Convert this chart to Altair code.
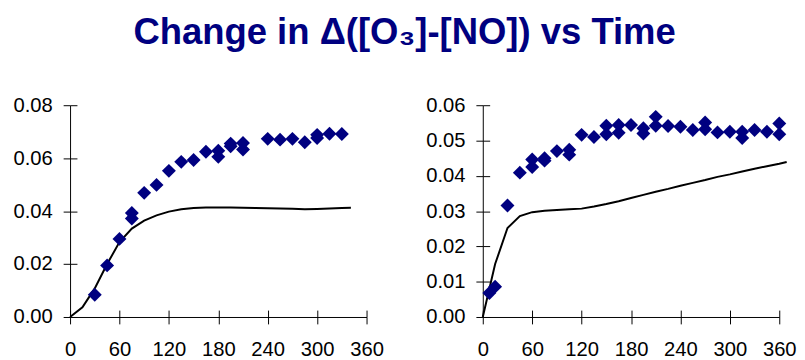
import altair as alt
import pandas as pd

# ---------------- data ----------------
left_obs_t = [30, 45, 60, 75, 75, 90, 105, 120, 135, 150, 165, 180, 180, 195, 195,
              210, 210, 240, 255, 270, 285, 300, 300, 315, 330]
left_obs_v = [0.0084, 0.0195, 0.0295, 0.0393, 0.0372, 0.0469, 0.0499, 0.0552, 0.0586,
              0.0593, 0.0624, 0.0628, 0.0605, 0.0655, 0.0645, 0.0657, 0.0633, 0.0673,
              0.0670, 0.0673, 0.0660, 0.0688, 0.0676, 0.0692, 0.0691]

left_mod_t = [0, 15, 30, 45, 60, 75, 90, 105, 120, 135, 150, 165, 180, 195, 210, 225,
              240, 255, 270, 285, 300, 315, 330, 341]
left_mod_v = [0.0, 0.0037, 0.0108, 0.0200, 0.0283, 0.0334, 0.0364, 0.0384, 0.0398,
              0.0407, 0.0412, 0.0414, 0.0414, 0.0414, 0.0413, 0.0412, 0.0411, 0.0410,
              0.0409, 0.0407, 0.0408, 0.0410, 0.0412, 0.0413]

right_obs_t = [8, 15, 30, 45, 60, 60, 75, 75, 90, 105, 105, 120, 135, 150, 150, 165, 165,
               180, 195, 195, 210, 210, 225, 240, 255, 270, 270, 285, 300, 315, 315,
               330, 345, 360, 360]
right_obs_v = [0.0068, 0.0086, 0.0316, 0.0409, 0.0446, 0.0425, 0.0450, 0.0443, 0.0470,
               0.0474, 0.0460, 0.0516, 0.0510, 0.0542, 0.0518, 0.0544, 0.0522, 0.0544,
               0.0535, 0.0520, 0.0567, 0.0542, 0.0541, 0.0539, 0.0530, 0.0551, 0.0532,
               0.0523, 0.0525, 0.0525, 0.0507, 0.0530, 0.0525, 0.0548, 0.0518]

right_mod_t = [0, 15, 30, 45, 60, 75, 90, 105, 120, 135, 150, 165, 180, 195, 210, 225,
               240, 255, 270, 285, 300, 315, 330, 345, 360, 369]
right_mod_v = [0.0, 0.0150, 0.0252, 0.0286, 0.0297, 0.0301, 0.0303, 0.0305, 0.0307,
               0.0313, 0.0320, 0.0328, 0.0337, 0.0346, 0.0355, 0.0363, 0.0372, 0.0380,
               0.0388, 0.0397, 0.0404, 0.0412, 0.0420, 0.0427, 0.0434, 0.0439]

x_ticks = [0, 60, 120, 180, 240, 300, 360]
left_y_ticks = [0.0, 0.02, 0.04, 0.06, 0.08]
right_y_ticks = [0.0, 0.01, 0.02, 0.03, 0.04, 0.05, 0.06]

TITLE = "Change in \u0394([O\u2083]-[NO]) vs Time"
FONT = "Liberation Sans"
NAVY = "#000080"
LABEL_SIZE = 20.5


def main_axis(values, orient, pad, fmt=None):
    kw = dict(values=values, title=None, orient=orient, labelFont=FONT,
              labelFontSize=LABEL_SIZE, labelColor="black", tickColor="black",
              tickSize=7, tickWidth=1, domainColor="black", domainWidth=1,
              grid=False, labelPadding=pad, labelFlush=False, labelOverlap=False)
    if fmt:
        kw["format"] = fmt
    return alt.Axis(**kw)


def inner_axis(values, orient):
    # second set of ticks pointing into the plot (ticks cross the axis line)
    return alt.Axis(values=values, title=None, orient=orient, offset=-7,
                    labels=False, domain=False, grid=False, tickColor="black",
                    tickSize=7, tickWidth=1)


def panel(obs_t, obs_v, mod_t, mod_v, y_ticks):
    obs = pd.DataFrame({"t": obs_t, "v": obs_v})
    mod = pd.DataFrame({"t": mod_t, "v": mod_v})
    xs = alt.Scale(domain=[0, 360], nice=False, zero=False)
    ys = alt.Scale(domain=[y_ticks[0], y_ticks[-1]], nice=False)
    line = alt.Chart(mod).mark_line(color="black", strokeWidth=2, clip=False).encode(
        x=alt.X("t:Q", scale=xs, axis=main_axis(x_ticks, "bottom", 16)),
        y=alt.Y("v:Q", scale=ys, axis=main_axis(y_ticks, "left", 11, ".2f")),
    )
    pts = alt.Chart(obs).mark_point(shape="diamond", filled=True, color=NAVY,
                                    size=200, opacity=1, clip=False).encode(
        x=alt.X("t:Q", scale=xs, axis=inner_axis(x_ticks, "bottom")),
        y=alt.Y("v:Q", scale=ys, axis=inner_axis(y_ticks, "left")),
    )
    return (alt.layer(line, pts)
            .resolve_axis(x="independent", y="independent")
            .properties(width=301, height=215))


left = panel(left_obs_t, left_obs_v, left_mod_t, left_mod_v, left_y_ticks)
right = panel(right_obs_t, right_obs_v, right_mod_t, right_mod_v, right_y_ticks)

chart = alt.hconcat(left, right, spacing=42).properties(
    title=alt.TitleParams(TITLE, font=FONT, fontSize=37, fontWeight="bold",
                          color=NAVY, anchor="middle", offset=44),
    padding={"left": 5, "top": 4, "right": 0, "bottom": 0},
).configure_view(stroke=None)

chart.save("out.html", embed_options={"renderer": "svg", "actions": False})
